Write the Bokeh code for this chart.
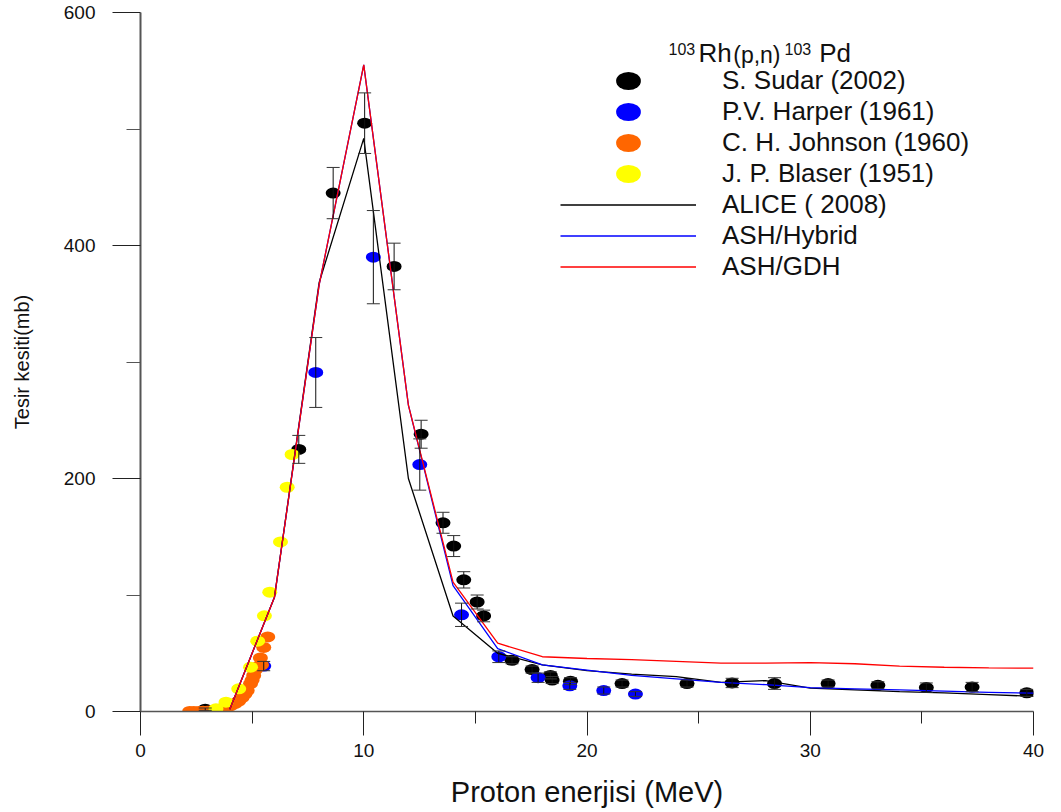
from bokeh.plotting import figure
from bokeh.models import (Range1d, FixedTicker, Whisker, TeeHead, ColumnDataSource,
                          Legend, LegendItem, Label)
from bokeh.embed import file_html
from bokeh.resources import INLINE

# ---------------- data ----------------
sudar_e = [2.9, 7.09, 8.63, 10.04, 11.36, 12.57, 13.55, 14.03, 14.48, 15.08, 15.37, 16.64,
           17.54, 18.36, 18.44, 19.26, 21.57, 24.48, 26.5, 28.4, 30.8, 33.03, 35.2, 37.25, 39.7]
sudar_s = [2, 225, 445, 505, 382, 238, 162, 142, 113, 94, 82, 44,
           36, 31, 27, 26, 24, 24, 24.5, 24, 24, 22.5, 20.5, 21, 16]
sudar_err = [1, 12, 22, 26, 20, 12, 9, 9, 7, 6, 5, 3,
             3, 3, 3, 3, 3, 3, 4, 5, 3, 3, 4, 4, 3]

harper_e = [5.52, 7.85, 10.43, 12.51, 14.38, 16.05, 17.81, 19.23, 20.75, 22.17]
harper_s = [39, 291, 390, 212, 83, 47, 29, 22, 18, 15]
harper_err = [4, 30, 40, 22, 10, 5, 4, 3, 3, 2]

johnson_e = [2.2, 2.39, 2.61, 2.8, 2.99, 3.2, 3.43, 3.65, 3.88, 4.05, 4.25, 4.4, 4.55,
             4.68, 4.78, 4.93, 5.0, 5.07, 5.15, 5.3, 5.42, 5.37, 5.52, 5.7]
johnson_s = [0, 0, 0, 0.2, 0.3, 0.8, 1.2, 2.5, 3.7, 5, 7, 9, 12,
             15, 18, 24, 27, 31, 36, 39, 40, 46, 55, 64]

blaser_e = [3.38, 3.83, 4.4, 4.93, 5.25, 5.55, 5.79, 6.27, 6.57, 6.79]
blaser_s = [2.3, 8, 19.5, 38, 60.4, 82.1, 102.4, 145.6, 192.5, 220.6]

model_e = [4, 6, 8, 10, 12, 14, 16, 18, 20, 22, 24, 26, 28, 30, 32, 34, 36, 38, 40]
alice_s = [2, 98, 368, 492, 200, 82, 50, 40, 35, 32, 30, 25, 26.5, 20, 18.5, 17, 16, 14.5, 13]
hybrid_s = [2, 98, 366, 555, 263, 108, 54, 40, 35.5, 31, 28, 25, 23, 20.5, 19.5, 18.5, 17.5, 16.5, 15.7]
gdh_s = [2, 98, 366, 555, 263, 111, 58.6, 47, 45.5, 44.5, 43, 41.5, 41.5, 42, 41, 39, 38, 37.5, 37.2]

x_ticks = [0, 10, 20, 30, 40]
x_minor = [5, 15, 25, 35]
y_ticks = [0, 200, 400, 600]
y_minor = [100, 300, 500]

series_labels = ["S. Sudar (2002)", "P.V. Harper (1961)", "C. H. Johnson (1960)",
                 "J. P. Blaser (1951)", "ALICE ( 2008)", "ASH/Hybrid", "ASH/GDH"]

FONT = "Liberation Sans"

# ---------------- figure ----------------
p = figure(width=1061, height=812, x_range=Range1d(0, 40), y_range=Range1d(0, 600),
           output_backend="svg", toolbar_location=None,
           min_border_left=140, min_border_right=28, min_border_top=12, min_border_bottom=101)
p.grid.visible = False
p.outline_line_color = None
p.background_fill_color = "white"
p.border_fill_color = "white"

# axes
xa = p.xaxis[0]
xa.ticker = FixedTicker(ticks=x_ticks, minor_ticks=x_minor)
xa.axis_line_color = "#555555"
xa.axis_line_width = 1.5
xa.major_tick_out = 24
xa.major_tick_in = 0
xa.minor_tick_out = 12
xa.minor_tick_in = 0
xa.major_tick_line_color = "#222222"
xa.minor_tick_line_color = "#222222"
xa.major_label_standoff = 8
xa.major_label_text_font = FONT
xa.major_label_text_font_size = "19px"
xa.major_label_text_color = "#111111"
xa.axis_label = "Proton enerjisi (MeV)"
xa.axis_label_text_font = FONT
xa.axis_label_text_font_size = "29px"
xa.axis_label_text_font_style = "normal"
xa.axis_label_text_color = "#111111"
xa.axis_label_standoff = 16

ya = p.yaxis[0]
ya.ticker = FixedTicker(ticks=y_ticks, minor_ticks=y_minor)
ya.axis_line_color = "#555555"
ya.axis_line_width = 2
ya.major_tick_out = 28
ya.major_tick_in = 0
ya.minor_tick_out = 14
ya.minor_tick_in = 0
ya.major_tick_line_color = "#222222"
ya.minor_tick_line_color = "#555555"
ya.major_label_standoff = 17
ya.major_label_text_font = FONT
ya.major_label_text_font_size = "19px"
ya.major_label_text_color = "#111111"
ya.axis_label = "Tesir kesiti(mb)"
ya.axis_label_text_font = FONT
ya.axis_label_text_font_size = "20px"
ya.axis_label_text_font_style = "normal"
ya.axis_label_text_color = "#111111"
ya.axis_label_standoff = 28

# ---------------- points ----------------
def pts(e, s, color):
    return p.ellipse(x=e, y=s, width=15, height=11, width_units="screen",
                     height_units="screen", fill_color=color, line_color=None)

r_sudar = pts(sudar_e, sudar_s, "#000000")
r_harper = pts(harper_e, harper_s, "#0000FF")
r_johnson = pts(johnson_e, johnson_s, "#FF6600")
r_blaser = pts(blaser_e, blaser_s, "#FFFF00")

# error bars
for e, s, err in ((sudar_e, sudar_s, sudar_err), (harper_e, harper_s, harper_err)):
    src = ColumnDataSource(dict(x=e,
                                upper=[a + b for a, b in zip(s, err)],
                                lower=[a - b for a, b in zip(s, err)]))
    w = Whisker(source=src, base="x", upper="upper", lower="lower", dimension="height",
                line_color="#111111", line_width=1, level="overlay",
                upper_head=TeeHead(size=13, line_color="#333333", line_width=1),
                lower_head=TeeHead(size=13, line_color="#333333", line_width=1))
    p.add_layout(w)

# ---------------- model lines ----------------
r_alice = p.line(model_e, alice_s, line_color="#000000", line_width=1.3)
r_hybrid = p.line(model_e, hybrid_s, line_color="#0000FF", line_width=1.3)
r_gdh = p.line(model_e, gdh_s, line_color="#FF0000", line_width=1.3)

# ---------------- legend ----------------
renderers = [r_sudar, r_harper, r_johnson, r_blaser, r_alice, r_hybrid, r_gdh]
items = [LegendItem(label=lab, renderers=[r]) for lab, r in zip(series_labels, renderers)]
legend = Legend(items=items, location=(420, 429), glyph_width=136, glyph_height=31,
                label_standoff=26, spacing=0, padding=0, margin=0,
                border_line_color=None, background_fill_alpha=0,
                label_text_font=FONT, label_text_font_size="26px",
                label_text_color="#111111", label_height=31)
p.add_layout(legend)

# legend title: 103Rh(p,n)103Pd  (positions in data units, text centred vertically)
title_parts = [("103", 23.65, 568.5, "16px"), ("Rh", 24.99, 565.0, "26px"),
               ("(p,n)", 26.55, 563.5, "23px"), ("103", 28.85, 568.5, "16px"),
               ("Pd", 30.40, 565.0, "26px")]
for txt, tx, ty, fs in title_parts:
    p.add_layout(Label(x=tx, y=ty, text=txt, text_font=FONT, text_font_size=fs,
                       text_color="#111111", text_baseline="middle", text_align="left"))

open("out.html", "w").write(file_html(p, INLINE))
